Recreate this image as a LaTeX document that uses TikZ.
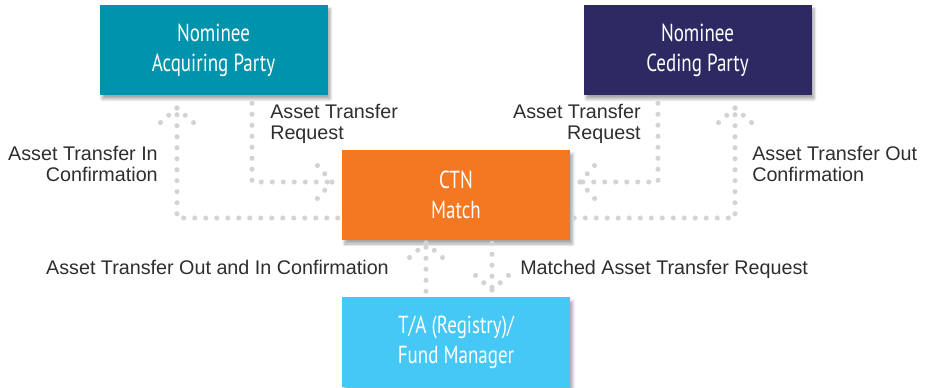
\documentclass[tikz,border=0pt]{standalone}
\usepackage{fontspec}
\setmainfont{Liberation Sans}
\newfontfamily\boxfont[FakeStretch=0.77]{PT Sans}
\usetikzlibrary{calc, shadows.blur}

\definecolor{acqteal}{HTML}{0093AC}
\definecolor{cedpurple}{HTML}{2D2A63}
\definecolor{ctnorange}{HTML}{F47721}
\definecolor{tablue}{HTML}{45C8F5}
\definecolor{dotgray}{HTML}{D3D3D3}
\definecolor{lblgray}{HTML}{2E2E2E}

\begin{document}
\begin{tikzpicture}[
    x=0.75pt, y=-0.75pt,
    party/.style={minimum width=171pt, minimum height=67.5pt, text=white, align=center,
        font=\boxfont\fontsize{18.5}{22.5}\selectfont,
        blur shadow={shadow xshift=2pt, shadow yshift=-3pt, shadow blur steps=6, shadow opacity=35}},
    flow/.style={draw=dotgray, line width=3.8pt, line cap=round, dash pattern=on 0pt off 8.25pt},
    lbl/.style={inner sep=0pt, text=lblgray, font=\fontsize{14.8}{16}\selectfont},
    chev/.pic={
        \draw[flow] (0,0) -- (-15,-17);
        \draw[flow] (0,0) -- (-15,17);
    }
]
\useasboundingbox (0,0) rectangle (929,388);

% parties
\node[party, fill=acqteal]   (acq) at (213.5,50)  {Nominee\\Acquiring Party};
\node[party, fill=cedpurple] (ced) at (697.5,50)  {Nominee\\Ceding Party};
\node[party, fill=ctnorange] (ctn) at (456,195)   {CTN\\Match};
\node[party, fill=tablue]    (ta)  at (456,342.5) {T/A (Registry)/\\Fund Manager};

% arrow tips
\coordinate (inTip)   at (177,108);
\coordinate (reqLTip) at (332,182);
\coordinate (reqRTip) at (580,182);
\coordinate (outTip)  at (735,108);
\coordinate (upTip)   at (426,243);
\coordinate (downTip) at (492,290);

% dotted flows
\draw[flow] ($(ctn.west)+(-4,23)$) -| (inTip);
\pic[rotate=90] at (inTip) {chev};
\draw[flow] ($(acq.south)+(38.5,8)$) |- (reqLTip);
\pic at (reqLTip) {chev};
\draw[flow] ($(ced.south)+(-39.5,8)$) |- (reqRTip);
\pic[rotate=180] at (reqRTip) {chev};
\draw[flow] ($(ctn.east)+(4,23)$) -| (outTip);
\pic[rotate=90] at (outTip) {chev};
\draw[flow] ($(ta.north)+(-30,-6)$) -- (upTip);
\pic[rotate=90] at (upTip) {chev};
\draw[flow] ($(ctn.south)+(36,3)$) -- (downTip);
\pic[rotate=-90] at (downTip) {chev};

% labels
\node[lbl, anchor=north east, align=right] (inLbl)   at (158,146) {Asset Transfer In\\Confirmation};
\node[lbl, anchor=north west, align=left]  (reqLLbl) at (270,104) {Asset Transfer\\Request};
\node[lbl, anchor=north east, align=right] (reqRLbl) at (641,104) {Asset Transfer\\Request};
\node[lbl, anchor=north west, align=left]  (outLbl)  at (752,146) {Asset Transfer Out\\Confirmation};
\node[lbl, anchor=north east] (bothLbl)  at (389,260) {Asset Transfer Out and In Confirmation};
\node[lbl, anchor=north west] (matchLbl) at (520,260) {Matched Asset Transfer Request};
\end{tikzpicture}
\end{document}
